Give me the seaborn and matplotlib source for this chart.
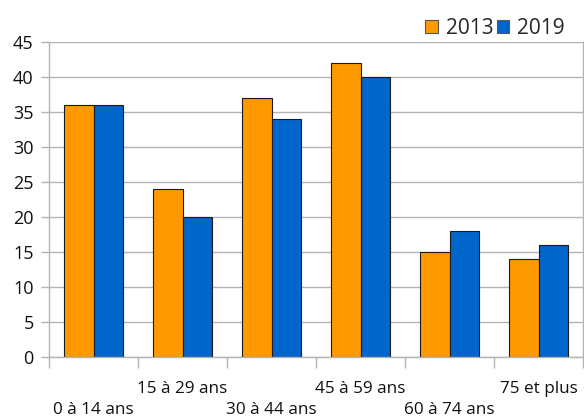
import matplotlib
matplotlib.use("Agg")
import matplotlib.pyplot as plt
import seaborn as sns
import pandas as pd
import numpy as np
from matplotlib.patches import Patch

categories = ["0 à 14 ans", "15 à 29 ans", "30 à 44 ans", "45 à 59 ans", "60 à 74 ans", "75 et plus"]
values_2013 = [36, 24, 37, 42, 15, 14]
values_2019 = [36, 20, 34, 40, 18, 16]
series = ["2013", "2019"]
colors = ["#FF9900", "#0066CC"]

df = pd.DataFrame({
    "cat": categories * 2,
    "val": values_2013 + values_2019,
    "year": [series[0]] * len(categories) + [series[1]] * len(categories),
})

sns.set_theme(style="white")
plt.rcParams["font.family"] = ["Open Sans", "DejaVu Sans"]

fig = plt.figure(figsize=(5.84, 4.18), dpi=100)
ax = fig.add_axes([49/584, 1 - 357/418, (583-49)/584, (357-42)/418])

sns.barplot(data=df, x="cat", y="val", hue="year", palette=colors, width=0.67,
            edgecolor="#1a1a1a", linewidth=0.8, ax=ax, legend=False, saturation=1)

ax.set_ylim(0, 45)
ax.set_xlim(-0.5, len(categories) - 0.5)
ax.set_yticks(np.arange(0, 46, 5))
ax.yaxis.grid(True, color="#b3b3b3", linewidth=1)
ax.set_axisbelow(True)
ax.set_xlabel("")
ax.set_ylabel("")

for s in ["left", "bottom", "right", "top"]:
    ax.spines[s].set_color("#b3b3b3")
    ax.spines[s].set_linewidth(1)
ax.spines["top"].set_visible(False)

labels = [("\n" + c) if i % 2 == 0 else c for i, c in enumerate(categories)]
ax.set_xticks(range(len(categories)))
ax.set_xticklabels(labels, fontsize=12.3, linespacing=1.45)
ax.tick_params(axis="x", which="major", length=0, pad=17, colors="#111111")
ax.set_xticks(np.arange(-0.5, len(categories), 1), minor=True)
ax.tick_params(axis="x", which="minor", length=8, color="#b3b3b3", width=1, bottom=True)
ax.tick_params(axis="y", length=6, color="#b3b3b3", width=1, labelsize=13, pad=5,
               left=True, labelcolor="#111111")

handles = [Patch(facecolor=c, edgecolor="#555555", linewidth=0.8) for c in colors]
fig.legend(handles, series, loc="upper right", bbox_to_anchor=(0.998, 1.0), ncol=2,
           frameon=False, fontsize=15, handlelength=0.6, handleheight=0.6,
           handletextpad=0.4, columnspacing=0.15, borderaxespad=0.45)

fig.savefig("out.png", dpi=100)
